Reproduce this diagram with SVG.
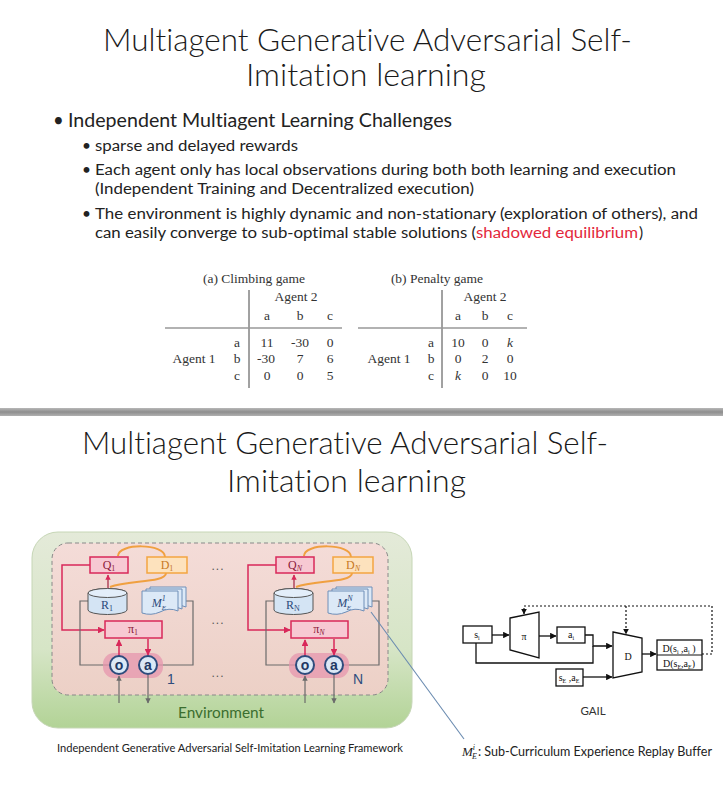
<svg xmlns="http://www.w3.org/2000/svg" width="723" height="788" viewBox="0 0 723 788">
<defs>
<style>
text{font-variant-ligatures:none}
.ttl{font-family:Lato,"Open Sans","Liberation Sans",sans-serif;font-weight:300;font-size:31px;fill:#1a1a1a}
.b1{font-family:Lato,"Open Sans","Liberation Sans",sans-serif;font-size:18.5px;fill:#222}
.b2{font-family:Lato,"Open Sans","Liberation Sans",sans-serif;font-size:15.5px;fill:#222}
.tb{font-family:"Liberation Serif","Times New Roman",serif;font-size:13.5px;fill:#333;text-anchor:middle}
.sf{font-family:"Liberation Serif","Times New Roman",serif}
.red{fill:#f7c9d3;stroke:#d9285a;stroke-width:1.5}
.org{fill:#fde2bd;stroke:#f3a541;stroke-width:1.5}
.cyl{fill:#d4e4f4;stroke:#555;stroke-width:1}
.stk{fill:#dce9f7;stroke:#6f8fb8;stroke-width:1}
.circ{fill:#dbe8f6;stroke:#2e4c7d;stroke-width:2}
.gl{fill:none;stroke:#6b6b6b;stroke-width:1.2}
.rl{fill:none;stroke:#d9285a;stroke-width:1.5}
.ol{fill:none;stroke:#f0a040;stroke-width:2}
.rt{font-family:"Liberation Serif",serif;font-size:12px;fill:#8b1a3a;text-anchor:middle}
.ot{font-family:"Liberation Serif",serif;font-size:12px;fill:#c7781f;text-anchor:middle}
.bt{font-family:"Liberation Serif",serif;font-size:12px;fill:#2c4a7a;text-anchor:middle}
.ct{font-family:"Liberation Sans",Arial,sans-serif;font-size:14px;font-weight:bold;fill:#1f3864;text-anchor:middle}
.gb{fill:#fff;stroke:#111;stroke-width:1.3}
.gk{fill:none;stroke:#111;stroke-width:1.3}
.gd{fill:none;stroke:#111;stroke-width:1.2;stroke-dasharray:2,2}
.gt{font-family:"Liberation Serif",serif;font-size:10px;fill:#111;text-anchor:middle}
.dots{font-family:"Liberation Sans",sans-serif;font-size:12px;fill:#555;text-anchor:middle;letter-spacing:1px}
</style>
<linearGradient id="sep" x1="0" y1="0" x2="0" y2="1">
<stop offset="0" stop-color="#b8b8b8"/><stop offset="0.5" stop-color="#8e8e8e"/><stop offset="1" stop-color="#b0b0b0"/>
</linearGradient>
<linearGradient id="env" x1="0" y1="0" x2="0" y2="1">
<stop offset="0" stop-color="#e4ead9"/><stop offset="0.6" stop-color="#d6e5c6"/><stop offset="1" stop-color="#b2d396"/>
</linearGradient>
<linearGradient id="dash" x1="0" y1="0" x2="0" y2="1">
<stop offset="0" stop-color="#f4dcd8"/><stop offset="1" stop-color="#ecd0c6"/>
</linearGradient>
<marker id="ar" viewBox="0 0 10 10" refX="9" refY="5" markerWidth="4.5" markerHeight="4.5" orient="auto-start-reverse"><path d="M0,0 L10,5 L0,10 z" fill="#d9285a"/></marker>
<marker id="ag" viewBox="0 0 10 10" refX="9" refY="5" markerWidth="4.5" markerHeight="4.5" orient="auto-start-reverse"><path d="M0,0 L10,5 L0,10 z" fill="#6b6b6b"/></marker>
<marker id="ab" viewBox="0 0 10 10" refX="9" refY="5" markerWidth="5" markerHeight="5" orient="auto-start-reverse"><path d="M0,0 L10,5 L0,10 z" fill="#111"/></marker>
</defs>
<rect x="0" y="0" width="723" height="788" fill="#fff"/>

<!-- Top slide -->
<g id="title1">
<text class="ttl" x="103" y="51" textLength="529" lengthAdjust="spacingAndGlyphs">Multiagent Generative Adversarial Self-</text>
<text class="ttl" x="246" y="86" textLength="240" lengthAdjust="spacingAndGlyphs">Imitation learning</text>
</g>
<g id="bullets">
<text class="b1" x="53" y="127">•</text>
<text class="b1" x="68" y="127" textLength="384" lengthAdjust="spacingAndGlyphs">Independent Multiagent Learning Challenges</text>
<text class="b2" x="82" y="151" font-size="13">•</text>
<text class="b2" x="95" y="151" textLength="203" lengthAdjust="spacingAndGlyphs">sparse and delayed rewards</text>
<text class="b2" x="82" y="175" font-size="13">•</text>
<text class="b2" x="95" y="175" textLength="581" lengthAdjust="spacingAndGlyphs">Each agent only has local observations during both both learning and execution</text>
<text class="b2" x="95" y="194" textLength="379" lengthAdjust="spacingAndGlyphs">(Independent Training and Decentralized execution)</text>
<text class="b2" x="82" y="219" font-size="13">•</text>
<text class="b2" x="95" y="219" textLength="603" lengthAdjust="spacingAndGlyphs">The environment is highly dynamic and non-stationary (exploration of others), and</text>
<text class="b2" x="95" y="238" textLength="381" lengthAdjust="spacingAndGlyphs">can easily converge to sub-optimal stable solutions (</text>
<text class="b2" x="476" y="238" textLength="162" lengthAdjust="spacingAndGlyphs" style="fill:#e3283c">shadowed equilibrium</text>
<text class="b2" x="639" y="238">)</text>
</g>

<g id="table-a">
<text class="tb" x="254" y="283">(a) Climbing game</text>
<line x1="249" y1="290" x2="249" y2="388" stroke="#444" stroke-width="1"/>
<text class="tb" x="296" y="301">Agent 2</text>
<text class="tb" x="267" y="320">a</text><text class="tb" x="300" y="320">b</text><text class="tb" x="330" y="320">c</text>
<line x1="165" y1="328" x2="342" y2="328" stroke="#999" stroke-width="1.6"/>
<text class="tb" x="237" y="347">a</text><text class="tb" x="267" y="347">11</text><text class="tb" x="300" y="347">-30</text><text class="tb" x="330" y="347">0</text>
<text class="tb" x="194" y="363">Agent 1</text>
<text class="tb" x="237" y="363">b</text><text class="tb" x="266" y="363">-30</text><text class="tb" x="300" y="363">7</text><text class="tb" x="330" y="363">6</text>
<text class="tb" x="237" y="380">c</text><text class="tb" x="267" y="380">0</text><text class="tb" x="300" y="380">0</text><text class="tb" x="330" y="380">5</text>
</g>
<g id="table-b">
<text class="tb" x="437" y="283">(b) Penalty game</text>
<line x1="442" y1="290" x2="442" y2="388" stroke="#444" stroke-width="1"/>
<text class="tb" x="485" y="301">Agent 2</text>
<text class="tb" x="458" y="320">a</text><text class="tb" x="485" y="320">b</text><text class="tb" x="510" y="320">c</text>
<line x1="358" y1="328" x2="527" y2="328" stroke="#999" stroke-width="1.6"/>
<text class="tb" x="431" y="347">a</text><text class="tb" x="458" y="347">10</text><text class="tb" x="485" y="347">0</text><text class="tb" x="510" y="347" font-style="italic">k</text>
<text class="tb" x="389" y="363">Agent 1</text>
<text class="tb" x="431" y="363">b</text><text class="tb" x="458" y="363">0</text><text class="tb" x="485" y="363">2</text><text class="tb" x="510" y="363">0</text>
<text class="tb" x="431" y="380">c</text><text class="tb" x="458" y="380" font-style="italic">k</text><text class="tb" x="485" y="380">0</text><text class="tb" x="510" y="380">10</text>
</g>

<rect id="separator" x="0" y="408" width="723" height="8" fill="url(#sep)"/>

<!-- Bottom slide -->
<g id="title2">
<text class="ttl" x="82" y="454" textLength="526" lengthAdjust="spacingAndGlyphs">Multiagent Generative Adversarial Self-</text>
<text class="ttl" x="227" y="492" textLength="239" lengthAdjust="spacingAndGlyphs">Imitation learning</text>
</g>

<g id="environment">
<rect x="32" y="532" width="380" height="196" rx="26" fill="url(#env)" stroke="#c6d6b6" stroke-width="1"/>
<rect x="52" y="543" width="336" height="152" rx="16" fill="url(#dash)" stroke="#888" stroke-width="1" stroke-dasharray="4,3"/>
<text x="221" y="718" text-anchor="middle" font-family="Lato,'Open Sans',sans-serif" font-size="15.5" fill="#3b6e2f" textLength="86" lengthAdjust="spacingAndGlyphs">Environment</text>
</g>

<g id="dots">
<text class="dots" x="218" y="570">...</text>
<text class="dots" x="218" y="624">...</text>
<text class="dots" x="218" y="677">...</text>
</g>

<!-- Agent 1 -->
<g id="agent1">
<g id="connectors-agent1">
<path class="ol" d="M165,557 C165,543 118,543 118,556"/>
<path class="ol" d="M166,573 C166,583 128,580 110,587"/>
<path d="M108,588 V575" fill="none" stroke="#a0203f" stroke-width="1.2" marker-end="url(#ar)"/>
<path class="rl" d="M90,565 H62 V630 H104" marker-end="url(#ar)"/>
<path class="gl" d="M88,601 H80 V665 H110"/>
<path class="gl" d="M186,601 H193 V665 H157"/>
</g>
<rect x="103" y="653" width="60" height="25" rx="11" fill="#e595ad" opacity="0.75"/>
<g id="Q1"><rect class="red" x="90" y="557" width="38" height="16"/><text class="rt" x="109" y="569">Q<tspan font-size="8" dy="2">1</tspan></text></g>
<g id="D1"><rect class="org" x="147" y="557" width="40" height="16"/><text class="ot" x="167" y="569">D<tspan font-size="8" dy="2">1</tspan></text></g>
<g id="R1"><path class="cyl" d="M88,593 V610 A19.5,4.5 0 0 0 127,610 V593 A19.5,4.5 0 0 0 88,593 Z"/><ellipse cx="107.5" cy="593" rx="19.5" ry="4.5" fill="#e3eefa" stroke="#555" stroke-width="1"/><text class="bt" x="107" y="609">R<tspan font-size="8" dy="2">1</tspan></text></g>
<g id="M1">
<path class="stk" d="M150,587 H186 V607 Q177,603 168,608 Q159,612 150,609 Z"/>
<path class="stk" d="M146,589 H182 V609 Q173,605 164,610 Q155,614 146,611 Z"/>
<path class="stk" d="M142,591 H178 V611 Q169,607 160,612 Q151,616 142,613 Z"/>
<text class="bt" x="159" y="607" font-style="italic" font-size="13">M<tspan font-size="8" dy="-6">1</tspan><tspan font-size="7" dx="-4" dy="9">E</tspan></text>
</g>
<g id="pi1"><rect class="red" x="105" y="621" width="57" height="17"/><text class="rt" x="133" y="633">π<tspan font-size="8" dy="2">1</tspan></text></g>
<path class="rl" d="M119,656 V640" marker-end="url(#ar)"/>
<path class="rl" d="M148,639 V655" marker-end="url(#ar)"/>
<g id="o1"><circle class="circ" cx="119" cy="665" r="9"/><text class="ct" x="119" y="670">o</text></g>
<g id="a1"><circle class="circ" cx="148" cy="665" r="9"/><text class="ct" x="148" y="670">a</text></g>
<path class="gl" d="M119,703 V676" marker-end="url(#ag)"/>
<path class="gl" d="M148,675 V703" marker-end="url(#ag)"/>
<text x="167" y="684" font-family="'Liberation Sans',sans-serif" font-size="14" fill="#2e4c7d">1</text>
</g>

<!-- Agent N -->
<g id="agentN" transform="translate(186,0)">
<g id="connectors-agentN">
<path class="ol" d="M165,557 C165,543 118,543 118,556"/>
<path class="ol" d="M166,573 C166,583 128,580 110,587"/>
<path d="M108,588 V575" fill="none" stroke="#a0203f" stroke-width="1.2" marker-end="url(#ar)"/>
<path class="rl" d="M90,565 H62 V630 H104" marker-end="url(#ar)"/>
<path class="gl" d="M88,601 H80 V665 H110"/>
<path class="gl" d="M186,601 H193 V665 H157"/>
</g>
<rect x="103" y="653" width="60" height="25" rx="11" fill="#e595ad" opacity="0.75"/>
<g id="QN"><rect class="red" x="90" y="557" width="38" height="16"/><text class="rt" x="109" y="569">Q<tspan font-size="8" dy="2" font-style="italic">N</tspan></text></g>
<g id="DN"><rect class="org" x="147" y="557" width="40" height="16"/><text class="ot" x="167" y="569">D<tspan font-size="8" dy="2" font-style="italic">N</tspan></text></g>
<g id="RN"><path class="cyl" d="M88,593 V610 A19.5,4.5 0 0 0 127,610 V593 A19.5,4.5 0 0 0 88,593 Z"/><ellipse cx="107.5" cy="593" rx="19.5" ry="4.5" fill="#e3eefa" stroke="#555" stroke-width="1"/><text class="bt" x="107" y="609">R<tspan font-size="8" dy="2">N</tspan></text></g>
<g id="MN">
<path class="stk" d="M150,587 H186 V607 Q177,603 168,608 Q159,612 150,609 Z"/>
<path class="stk" d="M146,589 H182 V609 Q173,605 164,610 Q155,614 146,611 Z"/>
<path class="stk" d="M142,591 H178 V611 Q169,607 160,612 Q151,616 142,613 Z"/>
<text class="bt" x="159" y="607" font-style="italic" font-size="13">M<tspan font-size="8" dy="-6">N</tspan><tspan font-size="7" dx="-6" dy="9">E</tspan></text>
</g>
<g id="piN"><rect class="red" x="105" y="621" width="57" height="17"/><text class="rt" x="133" y="633">π<tspan font-size="8" dy="2" font-style="italic">N</tspan></text></g>
<path class="rl" d="M119,656 V640" marker-end="url(#ar)"/>
<path class="rl" d="M148,639 V655" marker-end="url(#ar)"/>
<g id="oN"><circle class="circ" cx="119" cy="665" r="9"/><text class="ct" x="119" y="670">o</text></g>
<g id="aN"><circle class="circ" cx="148" cy="665" r="9"/><text class="ct" x="148" y="670">a</text></g>
<path class="gl" d="M119,703 V676" marker-end="url(#ag)"/>
<path class="gl" d="M148,675 V703" marker-end="url(#ag)"/>
<text x="167" y="684" font-family="'Liberation Sans',sans-serif" font-size="14" fill="#2e4c7d">N</text>
</g>

<g id="connectors">
<line x1="371" y1="612" x2="464" y2="739" stroke="#6a8bb0" stroke-width="1.1"/>
</g>

<text id="caption" x="57" y="752" font-family="Lato,'Open Sans',sans-serif" font-size="10.5" fill="#222" textLength="346" lengthAdjust="spacingAndGlyphs">Independent Generative Adversarial Self-Imitation Learning Framework</text>

<g id="legend">
<text x="462" y="756" class="sf" font-size="13" font-style="italic" fill="#222">M<tspan font-size="8" dy="-6">i</tspan><tspan font-size="8" dx="-3" dy="9">E</tspan></text>
<text x="478" y="756" font-family="Lato,'Open Sans',sans-serif" font-size="12.5" fill="#222" textLength="234" lengthAdjust="spacingAndGlyphs">: Sub-Curriculum Experience Replay Buffer</text>
</g>

<!-- GAIL -->
<g id="gail-connectors">
<path class="gk" d="M492,635 H509" marker-end="url(#ab)"/>
<path class="gk" d="M539,636 H556" marker-end="url(#ab)"/>
<path class="gk" d="M585,635 H593 V646 H612" marker-end="url(#ab)"/>
<path class="gk" d="M476,643 V663 H593 V646"/>
<path class="gk" d="M583,677 H612" marker-end="url(#ab)"/>
<path class="gk" d="M642,654 H656" marker-end="url(#ab)"/>
<path class="gd" d="M702,654 H712 V606 H524 V614" marker-end="url(#ab)"/>
<path class="gd" d="M626,606 V634" marker-end="url(#ab)"/>
</g>
<g id="gail-si"><rect class="gb" x="463" y="626" width="29" height="17"/><text class="gt" x="477" y="638">s<tspan font-size="6" dy="2">i</tspan></text></g>
<g id="gail-pi"><polygon class="gb" points="510,618 539,612 539,658 510,650"/><text class="gt" x="524" y="640" font-size="12">π</text></g>
<g id="gail-ai"><rect class="gb" x="557" y="627" width="28" height="16"/><text class="gt" x="571" y="638">a<tspan font-size="6" dy="2">i</tspan></text></g>
<g id="gail-D"><polygon class="gb" points="613,632 642,638 642,672 613,678"/><text class="gt" x="628" y="660" font-size="13">D</text></g>
<g id="gail-sEaE"><rect class="gb" x="556" y="669" width="27" height="17"/><text class="gt" x="569" y="681">s<tspan font-size="6" dy="2">E</tspan><tspan dy="-2"> ,a</tspan><tspan font-size="6" dy="2">E</tspan></text></g>
<g id="gail-out"><rect class="gb" x="657" y="640" width="45" height="30"/><line x1="657" y1="655" x2="702" y2="655" stroke="#111" stroke-width="1.2"/>
<text class="gt" x="679" y="652">D(s<tspan font-size="6" dy="2">i</tspan><tspan dy="-2"> ,a</tspan><tspan font-size="6" dy="2">i</tspan><tspan dy="-2"> )</tspan></text>
<text class="gt" x="679" y="667">D(s<tspan font-size="6" dy="2">E</tspan><tspan dy="-2">,a</tspan><tspan font-size="6" dy="2">E</tspan><tspan dy="-2">)</tspan></text></g>
<text id="gail-label" x="593" y="715" text-anchor="middle" font-family="Lato,'Open Sans',sans-serif" font-size="11.5" fill="#333">GAIL</text>
</svg>
